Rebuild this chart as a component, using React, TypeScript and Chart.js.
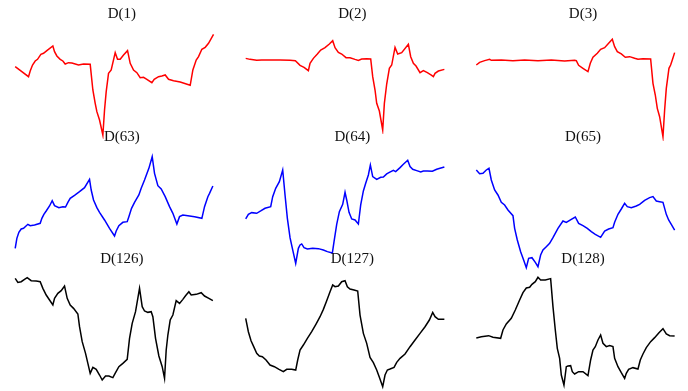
import React, { useEffect, useRef } from "react";
import { Chart, registerables } from "chart.js";

Chart.register(...registerables);

type Pt = [number, number];

// [time index, value] pairs
const d1: Pt[] = [
  [0, -1.0], [4.0, -4.0], [4.5, -2.3], [5.2, -0.5], [6.0, 0.7], [6.7, 1.2], [7.7, 2.7], [8.5, 3.0],
  [9.5, 3.8], [11.3, 5.2], [11.8, 3.5], [12.5, 2.2], [13.5, 1.2], [14.3, 0.7], [15.0, -0.2], [16.0, 0.2],
  [17.0, 0.1], [19.0, -0.5], [20.5, -0.2], [22.5, -0.3], [23.3, -8.0], [24.0, -12.0], [24.5, -14.5],
  [25.3, -17.0], [26.3, -21.5], [26.8, -14.0], [27.3, -8.5], [28.0, -3.0], [28.8, -2.0], [30.0, 3.2],
  [30.7, 1.2], [31.5, 1.2], [32.5, 2.5], [33.7, 3.8], [34.5, 0.0], [35.5, -2.0], [36.5, -2.8],
  [37.5, -4.3], [38.5, -4.2], [39.5, -4.8], [41.0, -5.8], [41.7, -4.8], [43.0, -4.0], [44.0, -3.8],
  [45.0, -3.5], [46.0, -4.8], [47.5, -5.2], [49.5, -5.6], [52.5, -6.6], [53.3, -2.0], [54.3, 1.0],
  [55.0, 2.0], [56.0, 4.2], [57.0, 4.8], [58.0, 6.0], [59.5, 8.7],
];

const d2: Pt[] = [
  [0, 0.5], [1.3, 0.2], [3.3, -0.1], [4.8, 0.0], [7.3, 0.0], [10.3, 0.0], [13.3, -0.1], [14.9, -0.2],
  [16.3, -1.6], [17.5, -2.2], [18.8, -3.2], [19.3, -1.0], [20.3, 0.5], [21.5, 1.8], [22.5, 3.0],
  [23.8, 3.7], [25.1, 4.8], [26.1, 5.8], [26.8, 3.7], [27.8, 2.3], [28.8, 1.8], [30.1, 0.7], [31.3, 0.7],
  [32.8, 0.2], [33.8, -0.1], [34.8, 0.3], [36.3, 0.4], [37.5, 0.3], [38.1, -5.0], [38.8, -9.0],
  [39.3, -13.0], [40.1, -15.3], [41.1, -21.0], [41.6, -13.0], [42.3, -7.2], [43.1, -2.5], [43.8, -1.5],
  [44.8, 3.8], [45.6, 1.8], [46.8, 2.2], [48.8, 4.7], [49.5, 1.0], [50.3, -1.0], [51.1, -1.8],
  [52.3, -3.8], [53.3, -3.2], [54.5, -3.8], [55.8, -4.6], [56.3, -5.0], [56.8, -4.0], [57.8, -3.3],
  [59.6, -2.8],
];

const d3: Pt[] = [
  [0, -1.5], [1.0, -0.7], [2.5, -0.2], [4.0, 0.2], [4.5, -0.1], [7.5, 0.0], [11.0, -0.2], [14.5, 0.0],
  [18.5, -0.2], [22.5, 0.0], [26.5, -0.3], [29.5, -0.1], [30.0, -0.2], [30.7, -1.6], [32.0, -2.5],
  [33.5, -3.5], [34.2, -1.0], [35.0, 0.8], [36.3, 2.0], [37.3, 3.2], [38.5, 3.7], [39.7, 5.0],
  [40.8, 6.2], [41.5, 4.0], [42.3, 2.5], [43.5, 1.8], [44.7, 0.8], [46.0, 1.0], [47.5, 0.5], [48.5, 0.2],
  [50.0, 0.4], [52.3, 0.3], [53.0, -7.0], [53.7, -10.5], [54.3, -14.5], [55.0, -17.0], [56.0, -23.0],
  [56.5, -15.0], [57.0, -8.5], [57.8, -2.5], [58.3, -1.5], [58.8, 0.0], [59.5, 2.2],
];

const d63: Pt[] = [
  [0, -7.0], [0.5, -4.0], [1.1, -2.2], [1.8, -1.2], [2.5, -1.0], [3.8, 0.2], [4.5, -0.2], [5.8, 0.0],
  [7.5, 0.5], [8.0, 2.0], [8.6, 3.2], [9.3, 4.2], [10.3, 5.7], [11.1, 7.3], [11.8, 5.8], [13.1, 5.2],
  [14.3, 5.5], [15.1, 5.4], [15.8, 6.8], [16.5, 8.0], [17.8, 8.9], [19.3, 10.0], [20.8, 11.2],
  [22.3, 13.7], [22.8, 10.5], [23.5, 7.5], [24.5, 5.2], [25.3, 3.8], [26.8, 1.5], [28.3, -1.0],
  [29.8, -3.3], [30.3, -1.8], [31.1, -0.2], [32.3, 0.8], [33.6, 1.0], [34.1, 2.5], [34.9, 5.0],
  [35.8, 6.8], [37.1, 9.0], [37.8, 11.0], [38.8, 13.5], [40.1, 17.0], [41.1, 20.5], [41.8, 15.5],
  [42.8, 11.8], [43.8, 10.8], [45.0, 8.5], [46.3, 5.5], [47.3, 3.5], [48.5, 0.3], [49.3, 2.5],
  [50.3, 3.0], [51.8, 2.8], [53.8, 2.5], [56.0, 2.0], [56.8, 5.5], [57.8, 8.5], [58.3, 9.5], [59.3, 11.7],
];

const d64: Pt[] = [
  [0, -3.2], [0.8, -1.8], [1.8, -1.3], [3.3, -1.5], [4.5, -0.8], [5.8, 0.0], [7.5, 0.5], [8.1, 3.5],
  [9.0, 6.0], [10.1, 8.0], [11.1, 11.5], [11.8, 4.0], [12.5, -3.0], [13.3, -8.8], [14.0, -12.0],
  [15.0, -16.5], [15.8, -12.0], [16.3, -11.0], [16.8, -10.7], [17.5, -11.8], [18.5, -12.2],
  [20.1, -12.0], [21.8, -12.1], [23.3, -12.5], [24.5, -13.0], [26.0, -13.4], [26.5, -10.0],
  [27.3, -4.8], [28.1, -1.0], [29.1, 1.2], [29.8, 4.8], [30.3, 2.5], [31.0, -1.2], [31.8, -3.2],
  [32.8, -3.5], [33.8, -4.7], [34.5, 1.0], [35.3, 5.2], [36.0, 7.5], [36.8, 10.0], [37.4, 13.0],
  [38.1, 9.5], [39.3, 8.7], [40.5, 9.3], [41.3, 9.4], [42.3, 10.3], [43.1, 10.8], [44.3, 11.4],
  [45.0, 11.0], [46.3, 12.2], [47.3, 13.2], [48.6, 14.4], [49.3, 12.5], [50.1, 11.7], [51.3, 11.3],
  [52.5, 10.9], [53.3, 11.2], [54.5, 11.2], [56.0, 11.1], [57.3, 11.7], [58.3, 12.0], [59.6, 12.4],
];

const d65: Pt[] = [
  [0, 16.5], [1.0, 15.4], [2.0, 15.5], [3.0, 16.5], [3.8, 17.0], [4.5, 13.5], [5.5, 10.5], [6.5, 9.0],
  [7.5, 6.8], [8.5, 6.0], [9.5, 4.5], [11.0, 2.8], [11.5, -1.0], [12.3, -4.5], [13.3, -8.0],
  [14.2, -10.5], [15.0, -12.8], [15.7, -10.0], [16.7, -9.8], [17.7, -11.2], [18.5, -12.5], [19.3, -9.0],
  [20.0, -7.5], [21.0, -6.5], [22.0, -5.5], [23.0, -3.8], [24.5, -1.0], [26.0, 1.2], [27.0, 0.8],
  [28.5, 1.7], [29.7, 2.4], [30.7, 0.5], [32.0, -0.2], [33.3, -1.0], [34.5, -2.0], [35.7, -2.8],
  [37.3, -3.7], [38.5, -1.8], [39.7, -1.2], [41.0, -0.8], [41.5, 0.8], [42.5, 3.2], [43.5, 4.8],
  [44.5, 6.5], [45.3, 5.5], [46.5, 5.2], [48.0, 5.7], [49.0, 6.2], [50.5, 7.4], [52.0, 8.2], [53.0, 8.5],
  [54.0, 7.2], [55.0, 7.0], [56.0, 6.8], [57.0, 3.2], [57.7, 1.5], [58.5, 0.2], [59.5, -1.5],
];

const d126: Pt[] = [
  [0, 1.5], [0.8, 0.3], [1.8, 0.5], [2.8, 1.2], [3.6, 1.7], [4.8, 0.8], [6.3, 0.7], [7.5, 0.5],
  [8.3, -1.5], [9.3, -3.5], [10.3, -5.0], [11.3, -6.5], [11.8, -4.5], [12.8, -3.0], [13.8, -2.2],
  [14.8, -0.8], [15.6, -4.5], [16.5, -6.5], [17.5, -7.5], [18.8, -9.2], [19.3, -13.0], [20.1, -17.5],
  [21.1, -21.0], [21.8, -24.0], [22.5, -27.0], [23.3, -25.2], [24.3, -25.8], [25.3, -27.5],
  [26.1, -29.0], [27.1, -27.8], [28.1, -27.8], [29.3, -28.3], [30.1, -26.8], [31.1, -25.0],
  [32.3, -24.0], [33.6, -22.8], [34.3, -16.5], [35.1, -12.0], [36.1, -8.5], [37.3, -1.5], [38.1, -7.0],
  [38.8, -8.3], [39.8, -8.7], [40.8, -8.5], [41.3, -10.0], [42.1, -16.5], [43.1, -21.8], [44.1, -25.0],
  [44.8, -28.5], [45.3, -20.0], [45.8, -15.5], [46.5, -11.0], [47.3, -9.5], [48.3, -5.2], [49.3, -6.0],
  [50.3, -4.8], [51.1, -3.7], [52.1, -2.5], [52.8, -3.5], [54.3, -3.3], [55.8, -2.8], [56.8, -3.8],
  [58.1, -4.5], [59.3, -5.2],
];

const d127: Pt[] = [
  [0, -0.5], [0.8, -4.5], [1.6, -7.2], [2.5, -9.2], [3.3, -11.0], [4.1, -11.8], [5.0, -12.0],
  [6.1, -13.0], [7.3, -14.5], [8.6, -15.0], [10.0, -15.8], [11.3, -16.5], [12.3, -15.8], [13.8, -15.8],
  [15.0, -16.0], [15.6, -13.0], [16.3, -10.0], [17.3, -8.5], [18.5, -6.5], [19.8, -4.5], [21.1, -2.2],
  [22.3, 0.0], [23.3, 2.2], [24.3, 4.8], [25.3, 7.5], [26.1, 9.5], [26.8, 9.0], [27.8, 9.2],
  [28.8, 10.5], [29.8, 10.8], [30.5, 9.0], [31.3, 8.3], [32.5, 8.0], [33.6, 7.7], [34.3, 0.5],
  [35.3, -5.0], [36.3, -8.0], [37.3, -12.2], [38.3, -13.8], [39.3, -16.0], [40.1, -18.2], [41.1, -21.0],
  [41.8, -17.5], [42.5, -16.0], [43.3, -15.7], [44.5, -15.2], [45.3, -13.7], [46.3, -12.5],
  [47.8, -11.2], [49.3, -9.0], [50.8, -7.0], [52.3, -5.0], [53.8, -3.0], [55.1, -1.0], [56.1, 1.3],
  [56.8, 0.0], [57.8, -0.8], [58.8, -0.8], [59.6, -0.8],
];

const d128: Pt[] = [
  [0, -0.4], [1.5, 0.0], [3.7, 0.3], [5.0, -0.2], [7.3, -0.5], [8.0, 2.0], [9.0, 3.8], [10.5, 5.5],
  [11.7, 8.0], [13.0, 11.0], [14.0, 13.2], [15.0, 14.6], [16.0, 14.8], [16.7, 15.7], [17.7, 16.5],
  [18.5, 17.8], [19.3, 17.0], [20.7, 17.0], [22.3, 17.4], [23.0, 9.0], [23.7, 2.0], [24.3, -3.5],
  [25.0, -6.5], [25.5, -11.5], [26.3, -14.5], [27.0, -9.0], [27.5, -8.8], [28.3, -8.7], [28.8, -10.5],
  [29.5, -11.2], [30.7, -10.5], [32.0, -10.5], [33.5, -11.7], [34.3, -7.0], [35.0, -4.0], [35.7, -3.0],
  [36.5, -1.0], [37.3, 0.5], [38.0, -2.0], [39.0, -3.0], [40.0, -2.7], [41.0, -3.0], [41.5, -6.5],
  [42.5, -9.0], [43.5, -10.8], [44.5, -12.5], [45.0, -11.0], [45.7, -9.8], [47.0, -9.3], [48.5, -9.7],
  [49.2, -7.0], [50.0, -5.2], [51.0, -3.3], [52.3, -1.5], [53.5, -0.3], [54.8, 1.2], [56.0, 2.4],
  [57.0, 0.8], [58.0, 0.3], [59.5, 0.2],
];

const titles = ["D(1)", "D(2)", "D(3)", "D(63)", "D(64)", "D(65)", "D(126)", "D(127)", "D(128)"];
const series = [d1, d2, d3, d63, d64, d65, d126, d127, d128];
const rowColors = ["#ff0000", "#0000ff", "#000000"];
const X_MAX = 64;

// layout (page pixels): plot-area left edges per column, title centre per row,
// plot top / bottom per panel
const colLeft = [15.2, 245.7, 476.3];
const rowTitleY = [14, 137.5, 259];
const plotTop = [34.3, 40.7, 39.3, 156.7, 160.3, 168.3, 277.7, 280.7, 277.3];
const plotBottom = [135, 130, 136.7, 248.3, 263.3, 267.7, 380, 386.7, 385];
const AREA_W = (X_MAX * 10) / 3;

function Panel({ i }: { i: number }) {
  const ref = useRef<HTMLCanvasElement>(null);
  const row = Math.floor(i / 3);
  const col = i % 3;
  const left = colLeft[col];
  const right = left + AREA_W;
  const titleY = rowTitleY[row];
  const top = plotTop[i];
  const bottom = plotBottom[i];
  const cl = Math.floor(left - 4);
  const cr = Math.ceil(right + 4);
  const ct = Math.floor(titleY - 14);
  const cb = Math.ceil(bottom + 4);
  const W = cr - cl;
  const H = cb - ct;
  const lineH = 18;
  const padTop = titleY - ct - lineH / 2;
  const padBottom = top - ct - padTop - lineH;

  useEffect(() => {
    const chart = new Chart(ref.current as HTMLCanvasElement, {
      type: "line",
      data: {
        datasets: [
          {
            data: series[i].map(([x, y]) => ({ x, y })),
            borderColor: rowColors[row],
            borderWidth: 1.5,
            pointRadius: 0,
            tension: 0,
            fill: false,
            clip: false as any,
          },
        ],
      },
      options: {
        responsive: false,
        animation: false,
        devicePixelRatio: 1,
        layout: {
          padding: { left: left - cl, right: cr - right, top: 0, bottom: cb - bottom },
        },
        plugins: {
          legend: { display: false },
          tooltip: { enabled: false },
          title: {
            display: true,
            text: titles[i],
            color: "#111",
            font: { family: "'Liberation Serif', serif", size: 15, weight: "normal", lineHeight: lineH / 15 },
            padding: { top: padTop, bottom: padBottom },
          },
        },
        scales: {
          x: { type: "linear", min: 0, max: X_MAX, display: false },
          y: { type: "linear", display: false, bounds: "data" },
        },
      } as any,
    });
    return () => chart.destroy();
  }, []);

  return (
    <canvas
      ref={ref}
      width={W}
      height={H}
      style={{ position: "absolute", left: cl, top: ct, width: W, height: H, display: "block" }}
    />
  );
}

export default function App() {
  return (
    <div
      style={{
        position: "fixed",
        left: 0,
        top: 0,
        width: 688,
        height: 391,
        overflow: "hidden",
        background: "#ffffff",
      }}
    >
      {titles.map((_, i) => (
        <Panel key={i} i={i} />
      ))}
    </div>
  );
}
